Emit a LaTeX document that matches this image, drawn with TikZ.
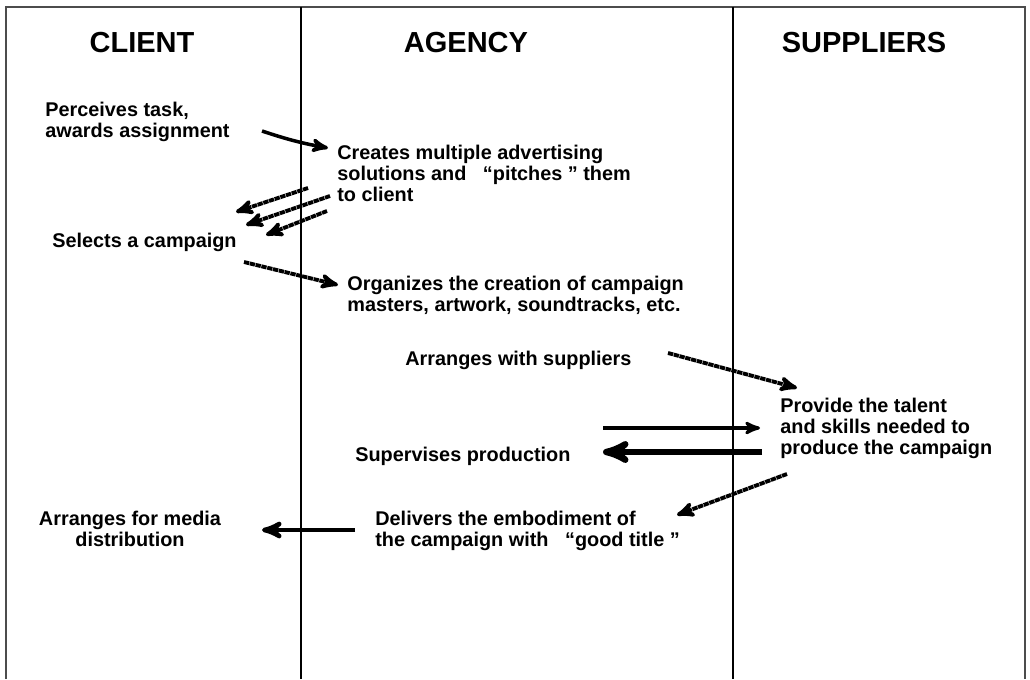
\documentclass[tikz,border=0pt]{standalone}
\usepackage{fontspec}
\setmainfont{Liberation Sans}
\usetikzlibrary{arrows,positioning}

\begin{document}
\begin{tikzpicture}[x=0.02cm,y=-0.02cm,>=stealth',
	lane/.style={line width=1.1pt},
	head/.style={font=\bfseries\fontsize{16.5}{19}\selectfont,inner sep=0pt},
	task/.style={font=\bfseries\fontsize{11.3}{12}\selectfont,align=left,inner sep=0pt,anchor=north west},
	flow/.style={->,line width=2pt},
	hatch/.style={->,line width=2.2pt,dash pattern=on 3pt off 0.4pt}]
	\useasboundingbox (0,0) rectangle (1030,679);
	% frame and lanes
	\draw[gray!60!black,line width=1.3pt] (6,679) -- (6,7) -- (1025,7) -- (1025,679);
	\draw[lane] (301,7) -- (301,679);
	\draw[lane] (733,7) -- (733,679);
	\node[head] (client)    at (142,43) {CLIENT};
	\node[head] (agency)    at (466,43) {AGENCY};
	\node[head] (suppliers) at (864,43) {SUPPLIERS};
	% tasks
	\node[task] (perceive) at (45,102)  {Perceives task,\\awards assignment};
	\node[task] (create)   at (337,145) {Creates multiple advertising\\solutions and \ \ “pitches ” them\\to client};
	\node[task] (select)   at (52,233)  {Selects a campaign};
	\node[task] (organize) at (347,276) {Organizes the creation of campaign\\masters, artwork, soundtracks, etc.};
	\node[task] (arrange)  at (405,351) {Arranges with suppliers};
	\node[task] (provide)  at (780,398) {Provide the talent\\and skills needed to\\produce the campaign};
	\node[task] (supervise) at (355,447) {Supervises production};
	\node[task,align=center,anchor=north] (media) at (130,511) {Arranges for media\\distribution};
	\node[task] (deliver)  at (375,511) {Delivers the embodiment of\\the campaign with \ \ “good title ”};
	% arrow ends
	\coordinate (a1) at (262,131);  \coordinate (b1) at (328,148);
	\coordinate (a2) at (308,188);  \coordinate (b2) at (236,212);
	\coordinate (a3) at (330,196);  \coordinate (b3) at (246,225);
	\coordinate (a4) at (327,211);  \coordinate (b4) at (266,235);
	\coordinate (a5) at (244,262);  \coordinate (b5) at (338,285);
	\coordinate (a6) at (668,353);  \coordinate (b6) at (797,388);
	\coordinate (a7) at (603,428);  \coordinate (b7) at (760,428);
	\coordinate (a8) at (762,452);  \coordinate (b8) at (603,452);
	\coordinate (a9) at (787,474);  \coordinate (b9) at (677,515);
	\coordinate (a10) at (355,530); \coordinate (b10) at (262,530);
	\draw[flow] (a1) to[bend right=4] (b1);
	\draw[hatch] (a2) -- (b2);
	\draw[hatch] (a3) -- (b3);
	\draw[hatch] (a4) -- (b4);
	\draw[hatch] (a5) -- (b5);
	\draw[hatch] (a6) -- (b6);
	\draw[->,line width=1.8pt] (a7) -- (b7);
	\draw[->,line width=3.6pt] (a8) -- (b8);
	\draw[hatch] (a9) -- (b9);
	\draw[->,line width=2.6pt] (a10) -- (b10);
\end{tikzpicture}
\end{document}
